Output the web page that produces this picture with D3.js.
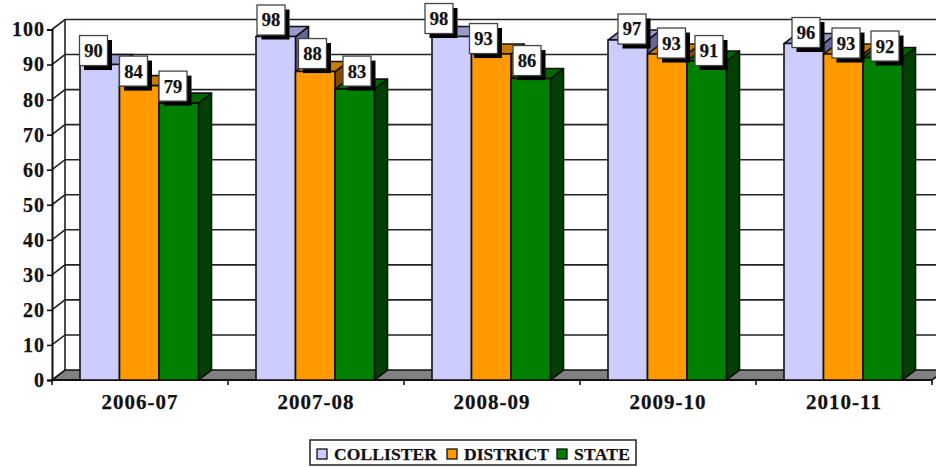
<!DOCTYPE html>
<html><head><meta charset="utf-8">
<script src="https://cdn.jsdelivr.net/npm/d3@7"></script>
<style>html,body{margin:0;padding:0;background:#fff}svg{display:block}
text{font-family:"Liberation Serif",serif;font-weight:700;fill:#111;stroke:#111;stroke-width:.25px}</style>
</head><body><svg id="c" width="936" height="467"></svg>
<script>
const categories = ["2006-07","2007-08","2008-09","2009-10","2010-11"];
const seriesNames = ["COLLISTER","DISTRICT","STATE"];
const collister = [90,98,98,97,96];
const district = [84,88,93,93,93];
const state = [79,83,86,91,92];
const yTicks = [0,10,20,30,40,50,60,70,80,90,100];
// label box offsets from the bar's top-left corner [dx, dy]
const labelOffsets = [
 [[-0.5,-29],[0,-29.5],[0,-32]],
 [[1,-31.5],[3,-33],[8,-33]],
 [[-7,-33],[-2,-30.5],[2,-33]],
 [[10,-26],[10,-26],[8,-25.5]],
 [[8,-26],[8.5,-26],[8,-26.5]]
];
const colours = [
 {main:"#ccccff",top:"#9999cc",side:"#666699"},
 {main:"#ff9900",top:"#cc7a00",side:"#7f4c00"},
 {main:"#008000",top:"#006600",side:"#004000"}
];
const values = [collister,district,state];
const dx=13,dy=-10,ink="#111";
const svg=d3.select("#c");
const x=d3.scaleBand().domain(categories).range([52,932]);
const y=d3.scaleLinear().domain([0,100]).range([380,29.5]);
const barW=39.5, padL=28;
const g=svg.append("g").attr("fill","none").attr("stroke","#222").attr("stroke-width",1.6);
yTicks.slice(1).forEach(t=>{
  g.append("path").attr("d",`M52,${y(t)}L${52+dx},${y(t)+dy}L940,${y(t)+dy}`);
});
g.append("line").attr("x1",52+dx).attr("x2",52+dx).attr("y1",y(100)+dy).attr("y2",y(0)+dy);
svg.append("path").attr("d",`M52,380L${52+dx},${380+dy}L${932+dx},${380+dy}L932,380Z`).attr("fill","#808080").attr("stroke",ink).attr("stroke-width",1.6);
const yAxis=d3.axisLeft(y).tickValues(yTicks).tickSize(5).tickPadding(2).tickFormat(d3.format("d"));
const ya=svg.append("g").attr("transform","translate(52,0)").call(yAxis);
ya.select(".domain").attr("stroke",ink).attr("stroke-width",2);
ya.selectAll(".tick line").attr("stroke",ink).attr("stroke-width",1.6);
ya.selectAll("text").attr("font-size",20).attr("font-family",null).attr("text-anchor","end").style("letter-spacing","1px");
const xAxis=d3.axisBottom(x).tickSize(0).tickPadding(0);
const xa=svg.append("g").attr("transform","translate(0,380)").call(xAxis);
xa.select(".domain").remove();
xa.selectAll("text").attr("font-size",21).attr("y",28.5).attr("dy",0).style("letter-spacing","1px");
svg.append("g").selectAll("line").data(categories.map(c=>x(c)).concat([932])).join("line")
  .attr("x1",d=>d).attr("x2",d=>d).attr("y1",380).attr("y2",385).attr("stroke",ink).attr("stroke-width",1.6);
svg.append("line").attr("x1",52).attr("x2",932).attr("y1",380).attr("y2",380).attr("stroke",ink).attr("stroke-width",2);
const bars=svg.append("g").attr("stroke",ink).attr("stroke-width",1.6).attr("stroke-linejoin","round");
categories.forEach((c,i)=>{
  values.forEach((vals,s)=>{
    const l=x(c)+padL+s*barW,r=l+barW,t=y(vals[i]),b=y(0),col=colours[s];
    bars.append("path").attr("fill",col.side).attr("d",`M${r},${t}L${r+dx},${t+dy}L${r+dx},${b+dy}L${r},${b}Z`);
    bars.append("path").attr("fill",col.top).attr("d",`M${l},${t}L${l+dx},${t+dy}L${r+dx},${t+dy}L${r},${t}Z`);
    bars.append("rect").attr("fill",col.main).attr("x",l).attr("y",t).attr("width",barW).attr("height",b-t);
  });
});
const labels=svg.append("g");
const boxW=28,boxH=30;
categories.forEach((c,i)=>{
  values.forEach((vals,s)=>{
    const l=x(c)+padL+s*barW,t=y(vals[i]),o=labelOffsets[i][s];
    const bx=l+o[0],by=t+o[1];
    labels.append("rect").attr("x",bx+4.5).attr("y",by+4.5).attr("width",boxW).attr("height",boxH).attr("fill","#000");
    labels.append("rect").attr("x",bx).attr("y",by).attr("width",boxW).attr("height",boxH).attr("fill","#fff").attr("stroke","#444").attr("stroke-width",1.3);
    labels.append("text").attr("x",bx+boxW/2).attr("y",by+boxH/2).attr("dy","0.35em").attr("text-anchor","middle").attr("font-size",18.5).text(vals[i]);
  });
});
const lg=svg.append("g");
lg.append("rect").attr("x",310).attr("y",440).attr("width",326).attr("height",25).attr("fill","#fff").attr("stroke","#222").attr("stroke-width",1.5);
const swatchX=[317,447,557],textX=[334,464,574],textW=[103,85,56];
seriesNames.forEach((n,s)=>{
  lg.append("rect").attr("x",swatchX[s]).attr("y",449).attr("width",10).attr("height",10).attr("fill",colours[s].main).attr("stroke",ink).attr("stroke-width",1.3);
  lg.append("text").attr("x",textX[s]).attr("y",459.5).attr("font-size",17.5).attr("textLength",textW[s]).text(n);
});
</script></body></html>
